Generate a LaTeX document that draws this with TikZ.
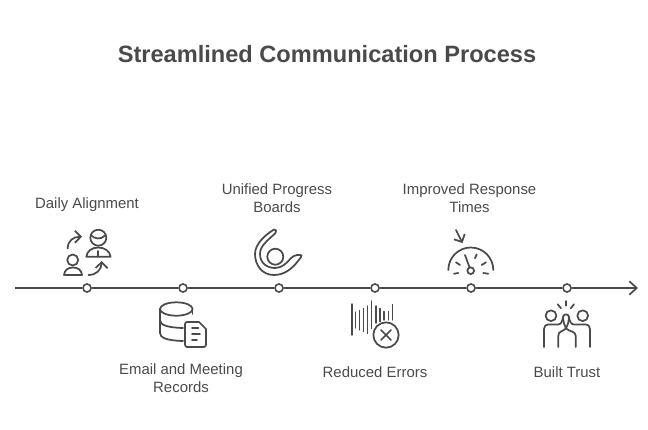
\documentclass[tikz,border=0pt]{standalone}
\usepackage{fontspec}
\setmainfont{Liberation Sans}
\usetikzlibrary{arrows.meta}
\definecolor{ink}{HTML}{4A4A4A}
\tikzset{
 dot/.style={circle,draw=ink,fill=white,line width=1.2pt,minimum size=6pt,inner sep=0pt},
 lab/.style={text=ink,font=\fontsize{11.2pt}{13.5pt}\selectfont,align=center,inner sep=0pt},
 ttl/.style={text=ink,font=\fontsize{17.7pt}{21pt}\selectfont\bfseries,inner sep=0pt},
 axis/.style={draw=ink,line width=1.3pt},
 ico/.style={draw=ink,line width=1.3pt,line cap=round,line join=round},
 barbs/.style={-{Straight Barb[length=5.5pt,width=10pt,line width=1.3pt]}},
 hbarb/.style={-{Straight Barb[length=4.4pt,width=9pt,line width=1.3pt]}}
}
\begin{document}
\begin{tikzpicture}[x=0.75pt,y=-0.75pt]
\useasboundingbox (0,0) rectangle (648,429);
\node[ttl] (title) at (327,54) {Streamlined Communication Process};
\coordinate (start) at (15,288);
\coordinate (end) at (638,288);
\node[dot] (d1) at (87,288) {};
\node[dot] (d2) at (183,288) {};
\node[dot] (d3) at (279,288) {};
\node[dot] (d4) at (375,288) {};
\node[dot] (d5) at (471,288) {};
\node[dot] (d6) at (567,288) {};
\draw[axis] (start) -- (d1);
\draw[axis] (d1) -- (d2);
\draw[axis] (d2) -- (d3);
\draw[axis] (d3) -- (d4);
\draw[axis] (d4) -- (d5);
\draw[axis] (d5) -- (d6);
\draw[axis,barbs] (d6) -- (end);
\node[lab] (l1) at (87,205) {Daily Alignment};
\node[lab] (l2) at (181,378) {Email and Meeting\\Records};
\node[lab] (l3) at (277,198) {Unified Progress\\Boards};
\node[lab] (l4) at (375,372) {Reduced Errors};
\node[lab] (l5) at (469.5,198) {Improved Response\\Times};
\node[lab] (l6) at (567,372) {Built Trust};
% icon 1: people
\draw[ico] (72.7,260) circle (5.5);
\draw[ico] (64,275) .. controls (64.5,270) and (68,267.5) .. (73,267.5) .. controls (78,267.5) and (81.5,270) .. (82,275) -- cycle;
\draw[ico] (98.3,237.7) circle (8);
\draw[ico] (90.8,235) .. controls (94,239) and (101,240) .. (105,235.5);
\draw[ico] (86.3,256.7) .. controls (87,251) and (92,247.5) .. (98.3,247.5) .. controls (104.6,247.5) and (109.8,251) .. (110.6,256.7) -- cycle;
\draw[ico] (98.3,251) -- (98.3,256.7);
\draw[ico,hbarb] (67.7,248.5) .. controls (67.7,241) and (73,236.7) .. (82,236.7);
\draw[ico,hbarb] (88.5,275) .. controls (96,275) and (101.5,270) .. (101.7,261);
% icon 2: database and document
\draw[ico] (176.3,309) ellipse (16.3 and 6.7);
\draw[ico] (160,309) -- (160,333) .. controls (160,337.5) and (166,340.5) .. (183,341);
\draw[ico] (160,320) .. controls (160,325) and (167,327.5) .. (183,328);
\draw[ico] (192.6,309) -- (192.6,314);
\draw[ico] (187,322) -- (199,322) -- (206,329) -- (206,344.5) .. controls (206,346) and (205,347) .. (204,347) -- (187,347) .. controls (186,347) and (185,346) .. (185,344.5) -- (185,324) .. controls (185,323) and (186,322) .. (187,322) -- cycle;
\draw[ico] (192,328) -- (198.5,328);
\draw[ico] (192,334) -- (200,334);
\draw[ico] (192,340) -- (197,340);
% icon 3: swoosh
\draw[ico] (275.3,256.7) circle (8);
\draw[ico] (274,229.5) .. controls (276,228.5) and (277,231.5) .. (275.5,233) .. controls (267,241) and (260,246) .. (260,254) .. controls (260,263) and (267,268) .. (275,268) .. controls (282,268) and (287,263) .. (291,258) .. controls (294,255) and (300,254) .. (301.5,255.5) .. controls (302,257) and (300,258) .. (298,261) .. controls (292,269) and (284,275) .. (274,275) .. controls (262,275) and (255,265) .. (255,254) .. controls (255,244) and (265,235) .. (274,229.5) -- cycle;
% icon 4: waveform
\foreach \x/\a/\b in {352/304/335,355.7/312/328,359.3/310.5/330,363.3/308.5/331.5,367.3/306/333.5,371.7/301/328.5,376/306/323,380/308.5/321.5,384/311.5/320,388.3/311.5/320,392.3/304.5/320}{
 \draw[ico,line width=1.1pt] (\x,\a) -- (\x,\b);
}
\node[circle,draw=ink,fill=white,line width=1.3pt,minimum size=19pt,inner sep=0pt] (nox) at (386,335) {};
\draw[ico] (381,330) -- (391,340);
\draw[ico] (391,330) -- (381,340);
% icon 5: gauge
\draw[ico] (448.3,270) arc[start angle=180,end angle=360,radius=22.5];
\node[circle,draw=ink,fill=white,line width=1.3pt,minimum size=5pt,inner sep=0pt] (hub) at (470.7,270.7) {};
\draw[ico] (hub) -- (465,255);
\draw[ico] (454,273.7) -- (458.3,273);
\draw[ico] (456,262.3) -- (460,265);
\draw[ico] (475,258.3) -- (476.7,254.3);
\draw[ico] (481.7,265) -- (486,262.3);
\draw[ico] (483.3,273) -- (488.3,273.7);
\draw[ico,hbarb] (456,230) -- (462.5,243);
% icon 6: high five
\draw[ico] (551,315.7) circle (5.4);
\draw[ico] (582.7,315.7) circle (5.4);
\draw[ico] (566,301) -- (566,305.7);
\draw[ico] (557.7,304.3) -- (561,308.3);
\draw[ico] (574,304.3) -- (570.7,308.3);
\draw[ico] (544,347) -- (544,329) .. controls (544,326) and (546,324.5) .. (548,324.5) -- (558,324.5) .. controls (561,324.5) and (562.5,321) .. (563,317) .. controls (563.5,313.5) and (568.5,313.5) .. (569,317) .. controls (569.5,321) and (571,324.5) .. (574,324.5) -- (586,324.5) .. controls (588,324.5) and (590,326) .. (590,329) -- (590,347);
\draw[ico] (558.3,347) -- (558.3,336) .. controls (558.3,331) and (562,332) .. (566,328.5) .. controls (570,332) and (575.7,331) .. (575.7,336) -- (575.7,347);
\draw[ico] (563,317) .. controls (563.5,322) and (564,325) .. (566,328.5) .. controls (568,325) and (568.5,322) .. (569,317);
\end{tikzpicture}
\end{document}
